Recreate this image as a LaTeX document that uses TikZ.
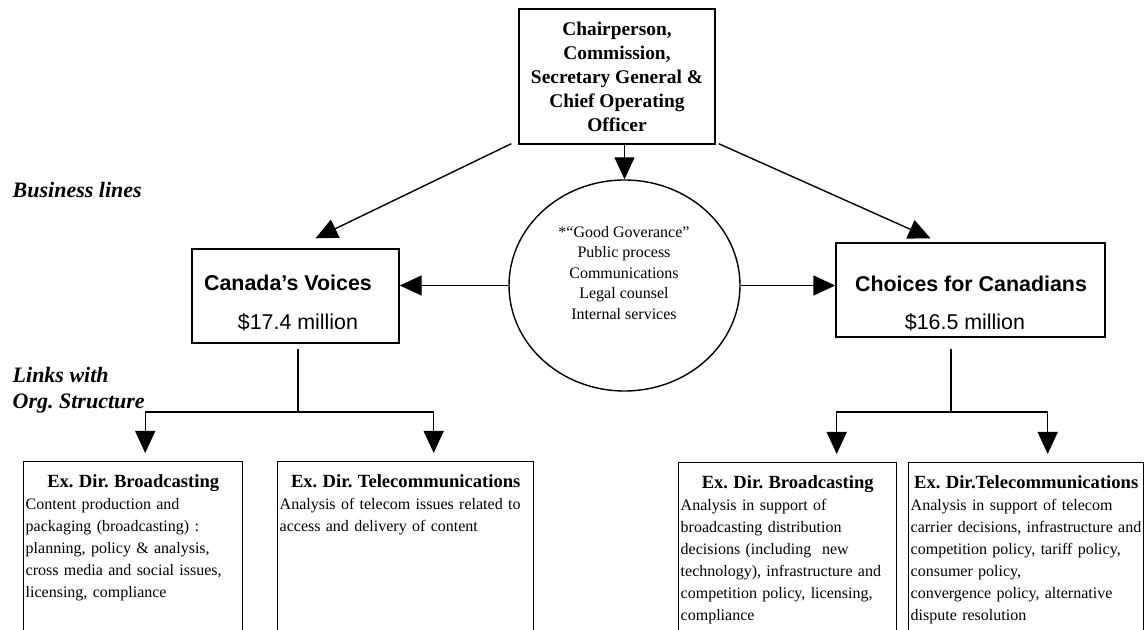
\documentclass[tikz,border=0pt]{standalone}
\usepackage{fontspec}
\setmainfont{Liberation Serif}
\newfontfamily\arialfont{Liberation Sans}
\usetikzlibrary{shapes.geometric,arrows.meta,calc,positioning}

\begin{document}
\begin{tikzpicture}[x=0.5pt,y=-0.5pt,line width=0.7pt]
\tikzstyle{chairbox}=[rectangle,draw,align=center,font=\fontsize{9.7}{12}\selectfont\bfseries,minimum width=98pt,minimum height=67.5pt,inner sep=0pt]
\tikzstyle{bizbox}=[rectangle,draw,minimum height=47pt,inner sep=0pt]
\tikzstyle{bizname}=[inner sep=0pt,font=\arialfont\fontsize{10.7}{13}\selectfont\bfseries]
\tikzstyle{bizamount}=[inner sep=0pt,font=\arialfont\fontsize{10.7}{13}\selectfont]
\tikzstyle{govcircle}=[ellipse,draw,minimum width=115.5pt,minimum height=105.5pt,inner sep=0pt]
\tikzstyle{govtext}=[align=center,inner sep=0pt,font=\fontsize{8}{10.25}\selectfont]
\tikzstyle{dirbox}=[rectangle,draw,anchor=north west,align=left,text depth=100pt,inner xsep=1pt,inner ysep=6.5pt,font=\fontsize{8}{11}\selectfont\frenchspacing]
\tikzstyle{sidelabel}=[anchor=west,align=left,inner sep=0pt,font=\fontsize{11}{13}\selectfont\bfseries\itshape\frenchspacing]
\tikzstyle{arrowline}=[-{Triangle[width=10pt,length=11pt]}]
\useasboundingbox (0,0) rectangle (1146,630);
\clip (0,0) rectangle (1146,630);
\fill [white] (0,0) rectangle (1146,630);
% head of the commission
\node [chairbox] (chair) at (617,76.5) {Chairperson,\\Commission,\\Secretary General \&\\Chief Operating\\Officer};
% good governance
\node [govcircle] (gov) at (624.5,285.5) {};
\node [govtext] (govtext) at (624,273) {*“Good Goverance”\\Public process\\Communications\\Legal counsel\\Internal services};
% business lines
\node [bizbox,minimum width=103.5pt] (voices) at (295.5,296) {};
\node [bizname] (voicesname) at (288,283) {Canada’s Voices};
\node [bizamount] (voicesamt) at (298,322) {\$17.4 million};
\node [bizbox,minimum width=134.5pt] (choices) at (970.5,290) {};
\node [bizname] (choicesname) at (971,284) {Choices for Canadians};
\node [bizamount] (choicesamt) at (965,322) {\$16.5 million};
\node [sidelabel] (bizlines) at (12,190) {Business lines};
\node [sidelabel] (orglinks) at (12,390) {Links with\\Org. Structure};
% executive directors
\node [dirbox,text width=107.5pt] (bcast) at (23,461) {{\centering\fontsize{9.3}{11}\selectfont\bfseries Ex. Dir. Broadcasting\par}Content production and\\packaging (broadcasting) :\\planning, policy \& analysis,\\cross media and social issues,\\licensing, compliance};
\node [dirbox,text width=126pt] (tcomm) at (277,461) {{\centering\fontsize{9.3}{11}\selectfont\bfseries Ex. Dir. Telecommunications\par}Analysis of telecom issues related to\\access and delivery of content};
\node [dirbox,text width=107pt] (bcasttwo) at (678,462) {{\centering\fontsize{9.3}{11}\selectfont\bfseries Ex. Dir. Broadcasting\par}Analysis in support of\\broadcasting distribution\\decisions (including~ new\\technology), infrastructure and\\competition policy, licensing,\\compliance};
\node [dirbox,text width=115.5pt] (tcommtwo) at (908,462) {{\centering\fontsize{9.3}{11}\selectfont\bfseries Ex. Dir.Telecommunications\par}Analysis in support of telecom\\carrier decisions, infrastructure and\\competition policy, tariff policy,\\consumer policy,\\convergence policy, alternative\\dispute resolution};
% connectors
\draw [arrowline] ([xshift=-3.5pt,yshift=0.5pt]chair.south west) -- ([xshift=10pt,yshift=5pt]voices.north);
\draw [arrowline] ([xshift=1.5pt,yshift=0.5pt]chair.south east) -- ([xshift=-20pt,yshift=2pt]choices.north);
\draw [arrowline] (chair.south -| gov.north) -- (gov.north);
\draw [arrowline] (gov.west) -- (gov.west -| voices.east);
\draw [arrowline] (gov.east) -- (gov.east -| choices.west);
\coordinate (lfork) at (298,412);
\coordinate (rfork) at (951,412);
\draw ($(lfork |- voices.south)+(0,5)$) -- (lfork);
\draw [arrowline] (lfork) -| ([xshift=6pt,yshift=4pt]bcast.north);
\draw [arrowline] (lfork) -| ([xshift=14pt,yshift=4pt]tcomm.north);
\draw ($(rfork |- choices.south)+(0,11)$) -- (rfork);
\draw [arrowline] (rfork) -| ([xshift=24.5pt,yshift=4pt]bcasttwo.north);
\draw [arrowline] (rfork) -| ([xshift=10.75pt,yshift=4pt]tcommtwo.north);
\end{tikzpicture}
\end{document}
